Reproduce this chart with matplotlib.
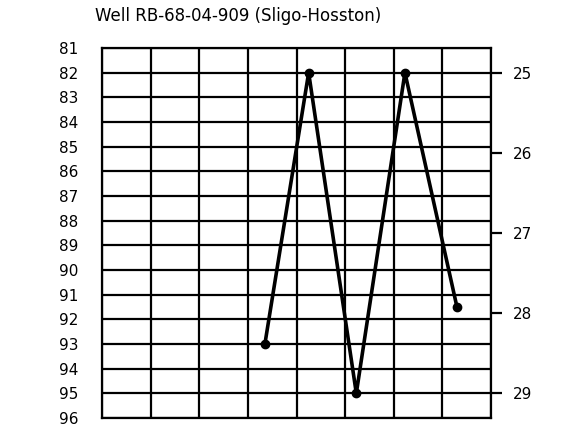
import matplotlib
matplotlib.use("Agg")
import matplotlib.pyplot as plt
import numpy as np

title = "Well RB-68-04-909 (Sligo-Hosston)"
left_ticks = list(range(81, 97))
right_ticks = [25, 26, 27, 28, 29]
x_vals = [3.35, 4.25, 5.23, 6.23, 7.3]
y_vals = [93.0, 82.0, 95.0, 82.0, 91.5]
n_cols = 8

plt.rcParams['font.family'] = ['DejaVu Sans']

fig = plt.figure(figsize=(5.74, 4.28), dpi=100)
ax = fig.add_axes([102/574, 1-418/428, (491-102)/574, (418-48)/428])
ax.set_xlim(0, n_cols)
ax.set_ylim(96, 81)

# grid
for v in left_ticks:
    ax.axhline(v, color='black', lw=1.6, zorder=1)
for c in range(n_cols + 1):
    ax.axvline(c, color='black', lw=1.6, zorder=1)

ax.plot(x_vals, y_vals, color='black', lw=2.6, marker='o', ms=6,
        markerfacecolor='black', zorder=3, solid_joinstyle='miter')

ax.set_xticks([])
ax.set_yticks(left_ticks)
ax.set_yticklabels([str(v) for v in left_ticks], fontsize=11)
ax.tick_params(axis='y', length=0, pad=17)
for s in ax.spines.values():
    s.set_linewidth(1.6)

# right axis: 25 at 82, 29 at 95
def to_right(y):
    return 25 + (y - 82) / 3.25

ax2 = ax.twinx()
ax2.set_ylim(to_right(96), to_right(81))
ax2.set_yticks(right_ticks)
ax2.set_yticklabels([str(v) for v in right_ticks], fontsize=11)
ax2.tick_params(axis='y', length=8, width=1.6, pad=8)
for s in ax2.spines.values():
    s.set_visible(False)

fig.text(95/574, 1-16/428, title, fontsize=12, ha='left', va='center')

fig.savefig("out.png", dpi=100, facecolor='white')
